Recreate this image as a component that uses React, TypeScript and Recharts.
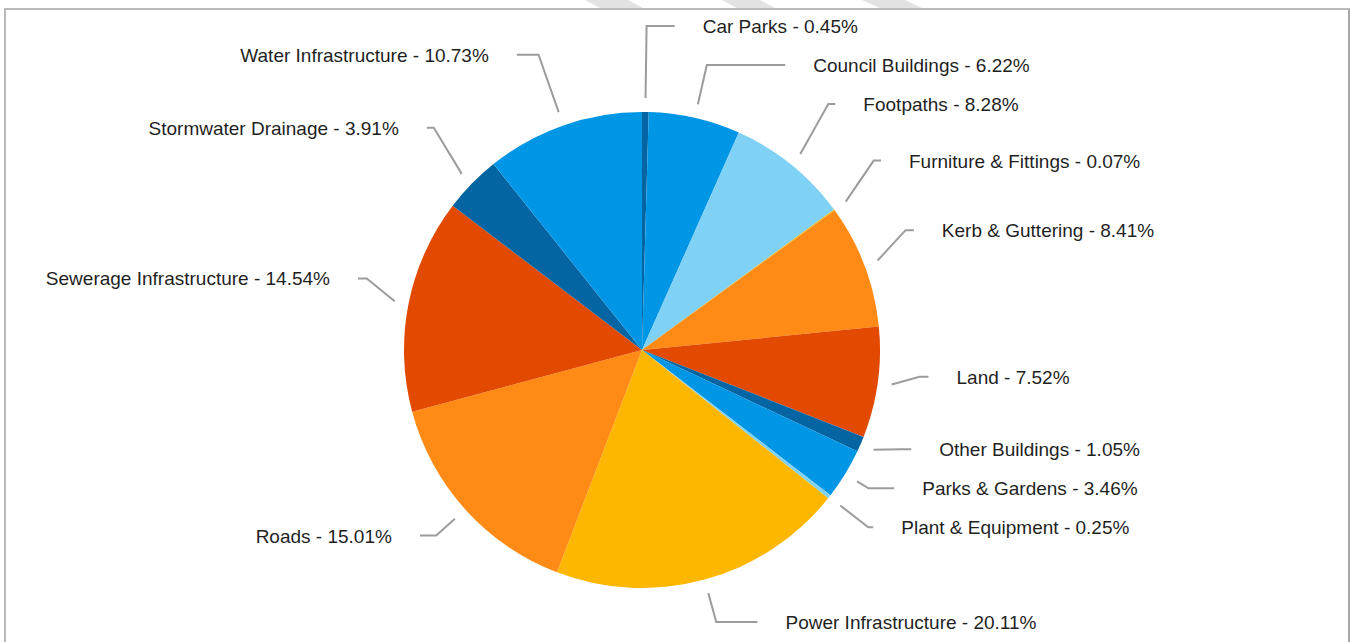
import { PieChart, Pie, Cell } from 'recharts';

// asset classes, clockwise from 12 o'clock
const categories = [
  'Car Parks',
  'Council Buildings',
  'Footpaths',
  'Furniture & Fittings',
  'Kerb & Guttering',
  'Land',
  'Other Buildings',
  'Parks & Gardens',
  'Plant & Equipment',
  'Power Infrastructure',
  'Roads',
  'Sewerage Infrastructure',
  'Stormwater Drainage',
  'Water Infrastructure',
];
const shares = [0.45, 6.22, 8.28, 0.07, 8.41, 7.52, 1.05, 3.46, 0.25, 20.11, 15.01, 14.54, 3.91, 10.73];
const palette = ['#0565a3', '#0096e6', '#7fd1f6', '#fdb700', '#ff8b16', '#e14a00'];

const data = categories.map((name, i) => ({ name, value: shares[i] }));

const CX = 642;
const CY = 350;
const R = 238;
const GAP = 39;
const RAD = Math.PI / 180;

// spread the labels on each side so they don't overlap
function labelRows(): number[] {
  const total = shares.reduce((a, b) => a + b, 0);
  const minY = CY - R - 86;
  const maxY = CY + R + 34;
  let cum = 0;
  const items = shares.map((v, i) => {
    const mid = 90 - ((cum + v / 2) / total) * 360;
    cum += v;
    return { i, right: Math.cos(mid * RAD) >= 0, y: CY - 14 - (R + 60) * Math.sin(mid * RAD) };
  });
  const out: number[] = [];
  for (const side of [true, false]) {
    const list = items.filter((it) => it.right === side).sort((a, b) => a.y - b.y);
    const clusters = list.map((it) => ({ items: [it], top: it.y }));
    let changed = true;
    while (changed) {
      changed = false;
      for (const c of clusters) {
        const n = c.items.length;
        const mean = c.items.reduce((s, it) => s + it.y, 0) / n;
        let top = mean - ((n - 1) * GAP) / 2;
        top = Math.max(minY, Math.min(top, maxY - (n - 1) * GAP));
        c.top = top;
      }
      for (let k = 0; k < clusters.length - 1; k++) {
        const a = clusters[k];
        const b = clusters[k + 1];
        if (a.top + a.items.length * GAP > b.top + 0.01) {
          a.items.push(...b.items);
          clusters.splice(k + 1, 1);
          changed = true;
          break;
        }
      }
    }
    clusters.forEach((c) => c.items.forEach((it, j) => (out[it.i] = c.top + j * GAP)));
  }
  return out;
}

const rows = labelRows();

const renderLabel = (props: any) => {
  const cx = props.cx ?? CX;
  const cy = props.cy ?? CY;
  const r = props.outerRadius ?? R;
  const { midAngle, index, name, value } = props;
  const cos = Math.cos(midAngle * RAD);
  const sin = Math.sin(midAngle * RAD);
  const sx = cx + (r + 14) * cos;
  const sy = cy - (r + 14) * sin;
  const ly = rows[index];
  const dir = cos >= 0 ? 1 : -1;
  const dy = ly - sy;
  let dx = 28;
  if (Math.abs(sin) > 1e-6 && dy * -sin > 0) {
    dx = Math.min(28, Math.abs((dy * cos) / sin));
  }
  const bx = sx + dir * dx;
  const e = (ly - (cy - 14)) / (r + 74);
  let ex = cx + dir * (r + 51) * Math.sqrt(Math.max(0, 1 - e * e));
  if (dir * (ex - bx) < 5) ex = bx + dir * 5;
  const tx = ex + dir * 28;
  return (
    <g key={`lbl-${index}`}>
      <polyline
        points={`${sx},${sy} ${bx},${ly} ${ex},${ly}`}
        fill="none"
        stroke="#9c9c9c"
        strokeWidth={2}
      />
      <text
        x={tx}
        y={ly + 7}
        textAnchor={dir > 0 ? 'start' : 'end'}
        fill="#1f1f1f"
        fontSize={19}
        fontFamily="Arial, 'Liberation Sans', sans-serif"
      >
        {`${name} - ${Number(value).toFixed(2)}%`}
      </text>
    </g>
  );
};

export default function App() {
  return (
    <div style={{ position: 'absolute', left: 0, top: 0, width: 1350, height: 642, overflow: 'hidden', background: '#fff' }}>
      <svg width={1350} height={10} style={{ position: 'absolute', left: 0, top: 0 }}>
        <polygon points="585,0 628,0 643,8 600,8" fill="#e2e2e2" />
        <polygon points="722,0 760,0 775,8 737,8" fill="#e2e2e2" />
        <polygon points="862,0 905,0 922,8 880,8" fill="#e2e2e2" />
      </svg>
      <div
        style={{
          position: 'absolute',
          left: 4,
          top: 8,
          width: 1342,
          height: 660,
          borderTop: '2px solid #bababa',
          borderLeft: '2px solid #bababa',
          borderRight: '2px solid #a8a8a8',
        }}
      />
      <div style={{ position: 'absolute', left: 0, top: 0 }}>
        <PieChart width={1350} height={642} margin={{ top: 0, right: 0, bottom: 0, left: 0 }}>
          <Pie
            data={data}
            dataKey="value"
            nameKey="name"
            cx={CX}
            cy={CY}
            outerRadius={R}
            startAngle={90}
            endAngle={-270}
            stroke="none"
            label={renderLabel}
            labelLine={false}
            isAnimationActive={false}
          >
            {data.map((d, i) => (
              <Cell key={d.name} fill={palette[i % palette.length]} />
            ))}
          </Pie>
        </PieChart>
      </div>
    </div>
  );
}
